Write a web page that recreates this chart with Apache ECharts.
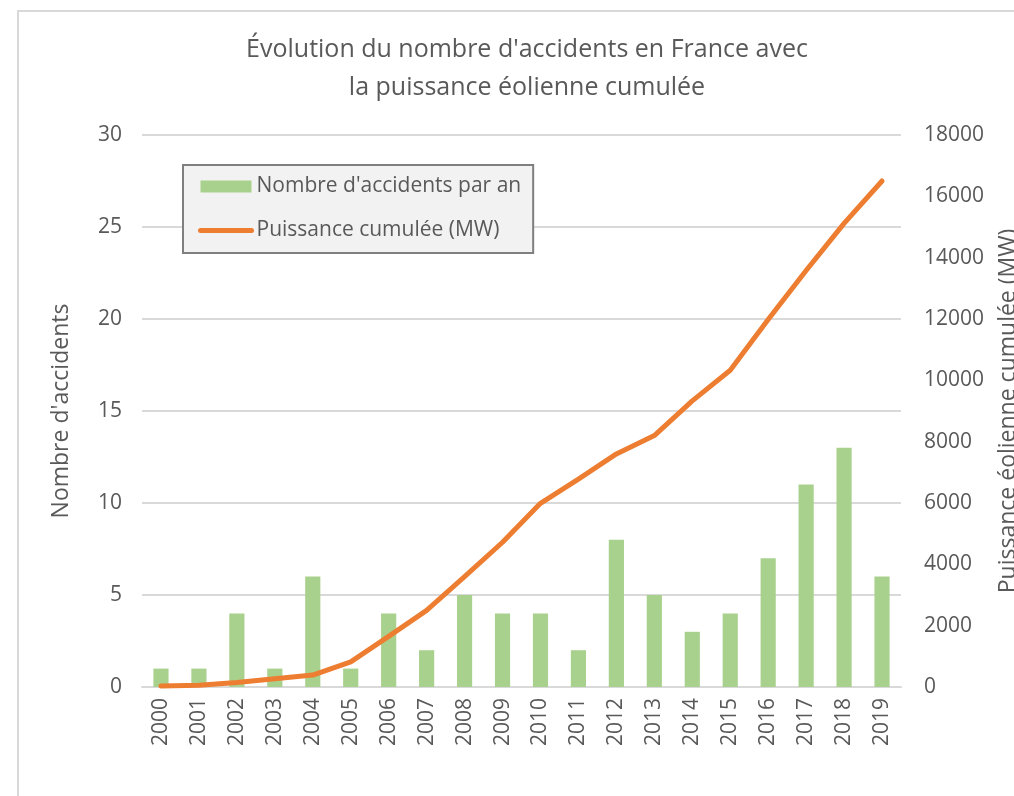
<!DOCTYPE html>
<html>
<head>
<meta charset="utf-8">
<script src="https://cdn.jsdelivr.net/npm/echarts@6/dist/echarts.min.js"></script>
<style>
  html, body { margin: 0; padding: 0; background: #fff; overflow: hidden; }
  #frame { position: absolute; left: 17px; top: 10px; width: 1100px; height: 900px; border: 2px solid #d9d9d9; box-sizing: border-box; }
  #chart { position: absolute; left: 0; top: 0; width: 1014px; height: 796px; }
</style>
</head>
<body>
<div id="frame"></div>
<div id="chart"></div>
<script>
// années
const years = ['2000', '2001', '2002', '2003', '2004', '2005', '2006', '2007', '2008', '2009',
  '2010', '2011', '2012', '2013', '2014', '2015', '2016', '2017', '2018', '2019']
// nombre d'accidents par an
const accidents = [1, 1, 4, 1, 6, 1, 4, 2, 5, 4, 4, 2, 8, 5, 3, 4, 7, 11, 13, 6]
// puissance cumulée (MW)
const puissance = [30, 60, 150, 270, 390, 820, 1650, 2500, 3600, 4720,
  5990, 6780, 7600, 8200, 9330, 10330, 11980, 13580, 15120, 16500]

const txt = '#595959'
const font = 'Open Sans'

const myChart = echarts.init(document.getElementById('chart'))
myChart.setOption({
  animation: false,
  textStyle: { fontFamily: font },
  title: {
    text: 'Évolution du nombre d\'accidents en France avec\nla puissance éolienne cumulée',
    left: 522,
    textAlign: 'center',
    top: 26,
    textStyle: { color: txt, fontSize: 25, fontWeight: 'normal', lineHeight: 38, fontFamily: font }
  },
  grid: { left: 142, right: 113, top: 135, bottom: 109, outerBoundsMode: 'none', containLabel: false },
  legend: {
    left: 183,
    top: 165,
    orient: 'vertical',
    backgroundColor: '#f2f2f2',
    borderColor: '#7f7f7f',
    borderWidth: 2,
    borderRadius: 0,
    padding: [11, 12, 12, 15],
    itemGap: 23,
    itemWidth: 51,
    itemHeight: 12,
    textStyle: { color: txt, fontSize: 21, fontFamily: font },
    data: [
      { name: 'Nombre d\'accidents par an', icon: 'rect' },
      { name: 'Puissance cumulée (MW)', itemStyle: { opacity: 0 }, lineStyle: { width: 5, cap: 'round', color: '#ed7d31' } }
    ]
  },
  xAxis: {
    type: 'category',
    data: years,
    axisTick: { show: false },
    axisLine: { lineStyle: { color: '#d9d9d9', width: 2 } },
    axisLabel: { rotate: 90, color: txt, fontSize: 21, margin: 11 }
  },
  yAxis: [
    {
      type: 'value',
      min: 0, max: 30, interval: 5,
      name: 'Nombre d\'accidents',
      nameLocation: 'middle',
      nameGap: 69,
      nameTextStyle: { color: txt, fontSize: 23 },
      axisLine: { show: false },
      axisTick: { show: false },
      axisLabel: { color: txt, fontSize: 21, margin: 20 },
      splitLine: { lineStyle: { color: '#d9d9d9', width: 2 } }
    },
    {
      type: 'value',
      min: 0, max: 18000, interval: 2000,
      name: 'Puissance éolienne cumulée (MW)',
      nameLocation: 'middle',
      nameGap: 96,
      nameRotate: 90,
      nameTextStyle: { color: txt, fontSize: 23 },
      axisLine: { show: false },
      axisTick: { show: false },
      axisLabel: { color: txt, fontSize: 21, margin: 23, formatter: v => String(v) },
      splitLine: { show: false }
    }
  ],
  series: [
    {
      name: 'Nombre d\'accidents par an',
      type: 'bar',
      yAxisIndex: 0,
      barWidth: '40%',
      itemStyle: { color: '#a9d18e' },
      data: accidents
    },
    {
      name: 'Puissance cumulée (MW)',
      type: 'line',
      yAxisIndex: 1,
      symbol: 'none',
      lineStyle: { color: '#ed7d31', width: 5, cap: 'round', join: 'round' },
      itemStyle: { color: '#ed7d31' },
      data: puissance
    }
  ]
})
</script>
</body>
</html>
